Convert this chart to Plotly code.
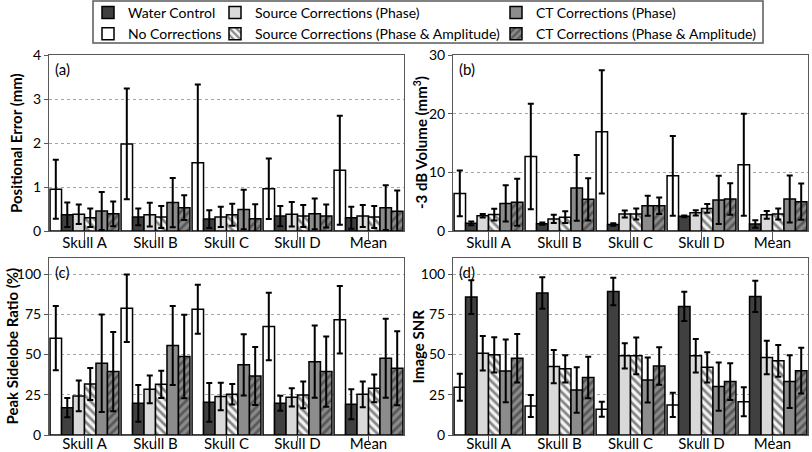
import plotly.graph_objects as go
from plotly.subplots import make_subplots

categories = ["Skull A", "Skull B", "Skull C", "Skull D", "Mean"]

# bar order within each group
series_names = [
    "No Corrections",
    "Water Control",
    "Source Corrections (Phase)",
    "Source Corrections (Phase & Amplitude)",
    "CT Corrections (Phase)",
    "CT Corrections (Phase & Amplitude)",
]

# (a) Positional error (mm)
positional_error_mean = [
    [0.95, 1.98, 1.55, 0.96, 1.38],
    [0.37, 0.32, 0.27, 0.34, 0.30],
    [0.38, 0.37, 0.32, 0.38, 0.34],
    [0.30, 0.32, 0.37, 0.34, 0.32],
    [0.455, 0.645, 0.49, 0.39, 0.53],
    [0.39, 0.53, 0.28, 0.34, 0.45],
]
positional_error_sd = [
    [0.67, 1.26, 1.78, 0.69, 1.24],
    [0.28, 0.19, 0.20, 0.23, 0.25],
    [0.22, 0.27, 0.23, 0.28, 0.25],
    [0.21, 0.25, 0.25, 0.25, 0.25],
    [0.43, 0.56, 0.45, 0.35, 0.51],
    [0.28, 0.28, 0.33, 0.26, 0.47],
]

# (b) -3 dB volume (mm^3)
volume_mean = [
    [6.4, 12.7, 16.9, 9.4, 11.3],
    [1.3, 1.25, 1.1, 2.5, 1.2],
    [2.6, 2.05, 2.9, 3.1, 2.75],
    [2.8, 2.35, 2.9, 3.85, 2.9],
    [4.7, 7.35, 4.3, 5.3, 5.45],
    [4.9, 5.4, 4.3, 5.45, 5.0],
]
volume_sd = [
    [3.9, 9.0, 10.5, 6.8, 8.7],
    [0.3, 0.2, 0.2, 0.15, 0.65],
    [0.3, 0.7, 0.6, 0.45, 0.65],
    [1.0, 1.0, 0.95, 0.75, 0.95],
    [3.1, 5.6, 1.7, 4.1, 4.0],
    [4.0, 3.6, 1.4, 2.7, 3.1],
]

# (c) Peak sidelobe ratio (%)
psr_mean = [
    [60.2, 78.8, 78.2, 67.4, 71.6],
    [17.0, 19.7, 20.3, 19.7, 19.1],
    [24.3, 28.4, 23.9, 23.4, 25.3],
    [31.7, 31.5, 25.3, 24.9, 29.0],
    [44.6, 55.6, 43.6, 45.6, 47.7],
    [39.4, 48.8, 36.7, 39.4, 41.5],
]
psr_sd = [
    [20.0, 21.0, 15.2, 21.0, 21.0],
    [6.0, 11.4, 12.0, 4.7, 9.3],
    [9.5, 8.6, 8.5, 5.7, 8.0],
    [10.0, 8.5, 6.4, 8.3, 8.6],
    [30.3, 24.6, 19.0, 22.4, 24.6],
    [24.6, 26.0, 18.0, 21.8, 23.0],
]

# (d) Image SNR
snr_mean = [
    [29.7, 18.0, 16.0, 18.7, 20.7],
    [85.7, 88.2, 89.2, 79.9, 86.1],
    [50.8, 42.5, 49.2, 49.2, 48.1],
    [49.8, 41.1, 49.2, 42.1, 46.1],
    [39.8, 28.0, 34.2, 30.1, 33.2],
    [47.7, 35.7, 42.9, 33.2, 40.0],
]
snr_sd = [
    [8.4, 6.8, 4.7, 7.5, 9.0],
    [10.5, 9.8, 8.6, 9.1, 9.7],
    [10.7, 10.3, 7.8, 10.4, 10.4],
    [11.0, 8.4, 11.4, 9.4, 9.9],
    [19.5, 14.1, 14.0, 15.0, 16.4],
    [15.0, 12.9, 11.7, 11.4, 14.2],
]

y_titles = ["Positional Error (mm)", "-3 dB Volume (mm<sup>3</sup>)",
            "Peak Sidelobe Ratio (%)", "Image SNR"]
panel_labels = ["(a)", "(b)", "(c)", "(d)"]

# styles
styles = [
    dict(color="#ffffff", pattern=None),
    dict(color="#404040", pattern=None),
    dict(color="#d9d9d9", pattern=None),
    dict(color="#ffffff", pattern=dict(shape="\\", fgcolor="#1a1a1a", bgcolor="#f2f2f2", size=6, solidity=0.45)),
    dict(color="#8c8c8c", pattern=None),
    dict(color="#7f7f7f", pattern=dict(shape="/", fgcolor="#262626", bgcolor="#8a8a8a", size=6, solidity=0.45)),
]
legend_ids = ["legend", "legend", "legend2", "legend2", "legend3", "legend3"]
legend_ranks = [2, 1, 1, 2, 1, 2]

FONT = "Lato, Open Sans, sans-serif"

fig = make_subplots(rows=2, cols=2, horizontal_spacing=0.06, vertical_spacing=0.06)

panels = [
    (positional_error_mean, positional_error_sd, 1, 1),
    (volume_mean, volume_sd, 1, 2),
    (psr_mean, psr_sd, 2, 1),
    (snr_mean, snr_sd, 2, 2),
]

for pi, (means, sds, r, c) in enumerate(panels):
    for si, name in enumerate(series_names):
        st = styles[si]
        marker = dict(color=st["color"], line=dict(color="#000000", width=1.5))
        if st["pattern"] is not None:
            marker["pattern"] = st["pattern"]
        fig.add_trace(
            go.Bar(
                x=categories,
                y=means[si],
                name=name,
                marker=marker,
                error_y=dict(type="data", array=sds[si], visible=True,
                             color="#000000", thickness=2, width=3),
                showlegend=(pi == 0),
                legend=legend_ids[si],
                legendrank=legend_ranks[si],
            ),
            row=r, col=c,
        )

W, H = 812, 452
xd = [[49 / W, 404 / W], [453 / W, 808 / W]]
yd = [[1 - 231 / H, 1 - 55 / H], [1 - 435 / H, 1 - 258 / H]]
title_x = [16 / W, 420 / W, 11 / W, 417 / W]
x_ticklen = [8, 8, 5, 5]

axis_common = dict(showline=True, mirror=True, linecolor="#595959", linewidth=1, automargin=False)

y_ranges = [[0, 4], [0, 30], [0, 110], [0, 110]]
y_ticks = [[0, 1, 2, 3, 4], [0, 10, 20, 30], [0, 25, 50, 75, 100], [0, 25, 50, 75, 100]]

for i in range(4):
    r, c = divmod(i, 2)
    ax_sfx = "" if i == 0 else str(i + 1)
    fig.layout["xaxis" + ax_sfx].update(
        domain=xd[c], type="category",
        ticks="outside", ticklen=x_ticklen[i], tickcolor="#595959",
        ticklabelstandoff=-10,
        tickfont=dict(family=FONT, size=15, color="#000000"),
        showgrid=False, **axis_common,
    )
    fig.layout["yaxis" + ax_sfx].update(
        domain=yd[r], range=y_ranges[i], tickvals=y_ticks[i],
        ticks="outside", ticklen=4, tickcolor="#595959",
        tickfont=dict(family=FONT, size=14, color="#000000"),
        showgrid=True, gridcolor="#a6a6a6", griddash="dot", gridwidth=1,
        zeroline=False,
        **axis_common,
    )
    # y-axis title placed at the reference position
    fig.add_annotation(
        text="<b>" + y_titles[i] + "</b>", xref="paper", yref="paper",
        x=title_x[i], y=(yd[r][0] + yd[r][1]) / 2, textangle=-90,
        xanchor="center", yanchor="middle", showarrow=False,
        font=dict(family=FONT, size=15, color="#000000"),
    )
    fig.add_annotation(
        text=panel_labels[i], xref=("x" + ax_sfx) + " domain", yref=("y" + ax_sfx) + " domain",
        x=0.012, y=0.985, xanchor="left", yanchor="top", showarrow=False,
        font=dict(family=FONT, size=15, color="#000000"),
    )

legend_common = dict(
    orientation="v", yanchor="top", y=1 + 3 / H, xanchor="left",
    font=dict(family=FONT, size=14, color="#000000"),
    bgcolor="rgba(0,0,0,0)", borderwidth=0, itemwidth=30,
    traceorder="normal", tracegroupgap=0,
)
fig.update_layout(
    legend=dict(x=88 / W, **legend_common),
    legend2=dict(x=215 / W, **legend_common),
    legend3=dict(x=496 / W, **legend_common),
)

# legend frame
fig.add_shape(type="rect", xref="paper", yref="paper",
              x0=93 / W, x1=763 / W, y0=1 - 43 / H, y1=1 - 1 / H,
              line=dict(color="#595959", width=1.5), fillcolor="rgba(0,0,0,0)")

fig.update_layout(
    width=W, height=H,
    margin=dict(l=0, r=0, t=0, b=0, autoexpand=False),
    barmode="group", bargap=0.03, bargroupgap=0,
    plot_bgcolor="#ffffff", paper_bgcolor="#ffffff",
    font=dict(family=FONT, size=14, color="#000000"),
)

fig.write_html(
    "out.html",
    config={"displayModeBar": False},
    post_script="document.body.style.margin='0';document.body.style.overflow='hidden';",
)
